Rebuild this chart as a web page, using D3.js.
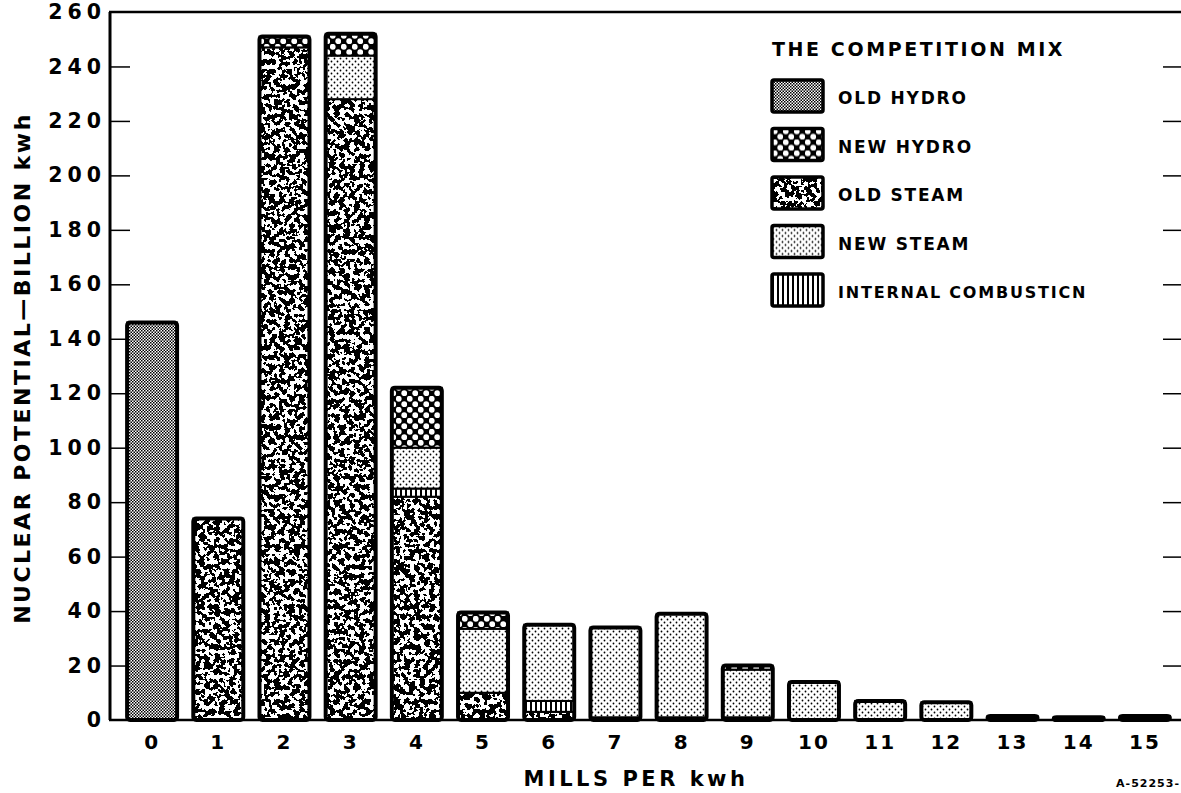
<!DOCTYPE html>
<html>
<head>
<meta charset="utf-8">
<script src="https://cdn.jsdelivr.net/npm/d3@7"></script>
<style>
  body { margin: 0; background: #fff; }
  text { font-family: "DejaVu Sans", sans-serif; font-weight: bold; fill: #000; }
</style>
</head>
<body>
<script>
// data (billion kWh)
var categories = ["0","1","2","3","4","5","6","7","8","9","10","11","12","13","14","15"];
var oldHydro     = [146, 0,   0,   0,  0,   0,  0,  0,  0,  0,    0,  0, 0,   0,   0, 0];
var oldSteam     = [0,  74, 247, 228, 82,  10,  3,  1,  1,  1,    0,  0, 0,   0,   0, 0];
var internalComb = [0,   0,   0,   0,  3,   0,  4,  0,  0,  0,    0,  0, 0,   0,   0, 0];
var newSteam     = [0,   0,   0,  16, 15, 23.5, 28, 33, 38, 17.5, 14,  7, 6.5, 1.5, 1, 1.5];
var newHydro     = [0,   0,   4,   8, 22,   6,  0,  0,  0,  1.5,  0,  0, 0,   0,   0, 0];
var yTicks = [0,20,40,60,80,100,120,140,160,180,200,220,240,260];
var keys = ["oldHydro","oldSteam","internalComb","newSteam","newHydro"];
var legendKeys = ["oldHydro","newHydro","oldSteam","newSteam","internalComb"];
var legendLabels = {oldHydro:"OLD HYDRO", newHydro:"NEW HYDRO", oldSteam:"OLD STEAM", newSteam:"NEW STEAM", internalComb:"INTERNAL COMBUSTICN"};

var w = 1181, h = 793;
var svg = d3.select("body").append("svg").attr("width", w).attr("height", h);
var defs = svg.append("defs");

// patterns
var ph = defs.append("pattern").attr("id","oldHydro").attr("patternUnits","userSpaceOnUse").attr("width",3).attr("height",3);
ph.append("rect").attr("width",3).attr("height",3).attr("fill","#fff");
ph.append("rect").attr("width",1.5).attr("height",1.5).attr("fill","#000");
ph.append("rect").attr("x",1.5).attr("y",1.5).attr("width",1.5).attr("height",1.5).attr("fill","#000");

var nh = defs.append("pattern").attr("id","newHydro").attr("patternUnits","userSpaceOnUse").attr("width",11).attr("height",11);
nh.append("rect").attr("width",11).attr("height",11).attr("fill","#000");
nh.append("circle").attr("cx",2.75).attr("cy",2.75).attr("r",2.9).attr("fill","#fff");
nh.append("circle").attr("cx",8.25).attr("cy",8.25).attr("r",2.9).attr("fill","#fff");

var ns = defs.append("pattern").attr("id","newSteam").attr("patternUnits","userSpaceOnUse").attr("width",6).attr("height",6);
ns.append("rect").attr("width",6).attr("height",6).attr("fill","#fff");
ns.append("circle").attr("cx",1.5).attr("cy",1.5).attr("r",0.9).attr("fill","#000");
ns.append("circle").attr("cx",4.5).attr("cy",4.5).attr("r",0.9).attr("fill","#000");

var ic = defs.append("pattern").attr("id","internalComb").attr("patternUnits","userSpaceOnUse").attr("width",5).attr("height",5);
ic.append("rect").attr("width",5).attr("height",5).attr("fill","#fff");
ic.append("rect").attr("width",2).attr("height",5).attr("fill","#000");

// blotchy texture for old steam
var f = defs.append("filter").attr("id","noise").attr("x",0).attr("y",0).attr("width","100%").attr("height","100%")
  .attr("color-interpolation-filters","sRGB");
f.append("feTurbulence").attr("type","fractalNoise").attr("baseFrequency",0.2).attr("numOctaves",2).attr("seed",7);
f.append("feColorMatrix").attr("type","matrix").attr("values","0 0 0 0 0  0 0 0 0 0  0 0 0 0 0  1 0 0 0 0");
f.append("feComponentTransfer").append("feFuncA").attr("type","discrete")
  .attr("tableValues","0 0 0 0 0 0 0 0 0 0 1 1 1 1 1 1 1 1 1 1");
var os = defs.append("pattern").attr("id","oldSteam").attr("patternUnits","userSpaceOnUse").attr("width",400).attr("height",800);
os.append("rect").attr("width",400).attr("height",800).attr("fill","#fff");
os.append("rect").attr("width",400).attr("height",800).attr("filter","url(#noise)");

// scales
var x = d3.scaleBand().domain(categories).range([119, 1178]).paddingInner(0.245).paddingOuter(0.1225);
var y = d3.scaleLinear().domain([0, 260]).range([720, 12]);

var rows = categories.map(function(c, i) {
  return {cat: c, oldHydro: oldHydro[i], oldSteam: oldSteam[i], internalComb: internalComb[i], newSteam: newSteam[i], newHydro: newHydro[i]};
});
var series = d3.stack().keys(keys)(rows);

// frame: left axis, top line, baseline
svg.append("line").attr("x1",110).attr("x2",110).attr("y1",y(260)).attr("y2",y(0)).attr("stroke","#000").attr("stroke-width",3);
svg.append("line").attr("x1",109).attr("x2",w).attr("y1",y(260)).attr("y2",y(260)).attr("stroke","#000").attr("stroke-width",2.5);
svg.append("line").attr("x1",109).attr("x2",w).attr("y1",y(0)).attr("y2",y(0)).attr("stroke","#000").attr("stroke-width",2.5);

// left axis ticks + labels
var yAxis = d3.axisLeft(y).tickValues(yTicks).tickSize(-20).tickFormat(d3.format("d"));
var ya = svg.append("g").attr("transform","translate(110,0)").call(yAxis);
ya.select(".domain").remove();
ya.selectAll(".tick line").attr("stroke-width",1.5).filter(function(d){ return d === 0 || d === 260; }).remove();
ya.selectAll(".tick text").attr("x",-4).style("font-size","20.5px").style("letter-spacing","5px")
  .style("font-family","'DejaVu Sans', sans-serif").style("font-weight","bold");

// right side ticks
var yr = d3.axisRight(y).tickValues(yTicks.filter(function(d){ return d > 0 && d < 260; })).tickSize(-18).tickFormat("");
var yra = svg.append("g").attr("transform","translate(" + w + ",0)").call(yr);
yra.select(".domain").remove();
yra.selectAll(".tick line").attr("stroke-width",1.5);

// x axis labels
var xAxis = d3.axisBottom(x).tickSize(0).tickPadding(15);
var xa = svg.append("g").attr("transform","translate(0," + y(0) + ")").call(xAxis);
xa.select(".domain").remove();
xa.selectAll(".tick text").style("font-size","20px").style("letter-spacing","2px")
  .style("font-family","'DejaVu Sans', sans-serif").style("font-weight","bold");

// stacked segments
svg.append("g").selectAll("g").data(series).enter().append("g")
  .attr("fill", function(d) { return "url(#" + d.key + ")"; })
  .selectAll("rect").data(function(d) { return d; }).enter()
  .filter(function(d) { return d[1] - d[0] > 0; })
  .append("rect")
  .attr("x", function(d) { return x(d.data.cat); })
  .attr("y", function(d) { return y(d[1]); })
  .attr("width", x.bandwidth())
  .attr("height", function(d) { return y(d[0]) - y(d[1]); })
  .attr("stroke", "#000").attr("stroke-width", 2);

// heavy outline around each bar
svg.append("g").selectAll("rect").data(rows).enter().append("rect")
  .attr("x", function(d) { return x(d.cat); })
  .attr("y", function(d) { return y(d3.sum(keys, function(k) { return d[k]; })); })
  .attr("width", x.bandwidth())
  .attr("height", function(d) { return y(0) - y(d3.sum(keys, function(k) { return d[k]; })); })
  .attr("rx", 3)
  .attr("fill", "none").attr("stroke", "#000").attr("stroke-width", 4);

// legend
var lg = svg.append("g").attr("transform","translate(772,0)");
lg.append("text").attr("x",0).attr("y",56).text("THE COMPETITION MIX")
  .style("font-size","19px").style("letter-spacing","2.6px");
var li = lg.selectAll(".item").data(legendKeys).enter().append("g").attr("class","item")
  .attr("transform", function(d, i) { return "translate(0," + (80 + i * 48.5) + ")"; });
li.append("rect").attr("width",51).attr("height",32).attr("fill", function(d) { return "url(#" + d + ")"; })
  .attr("stroke","#000").attr("stroke-width",3.5).attr("rx",2);
li.append("text").attr("x",66).attr("y",24).text(function(d) { return legendLabels[d]; })
  .style("font-size", function(d) { return d === "internalComb" ? "16px" : "17px"; })
  .style("letter-spacing","1.8px");

// axis titles
svg.append("text").attr("transform","translate(30,368) rotate(-90)").attr("text-anchor","middle")
  .text("NUCLEAR POTENTIAL\u2014BILLION kwh").style("font-size","22px").style("letter-spacing","2.5px");
svg.append("text").attr("x",636).attr("y",786).attr("text-anchor","middle")
  .text("MILLS PER kwh").style("font-size","21px").style("letter-spacing","3.5px");
svg.append("text").attr("x",1180).attr("y",787).attr("text-anchor","end")
  .text("A-52253-").style("font-size","11px").style("letter-spacing","1px");
</script>
</body>
</html>
